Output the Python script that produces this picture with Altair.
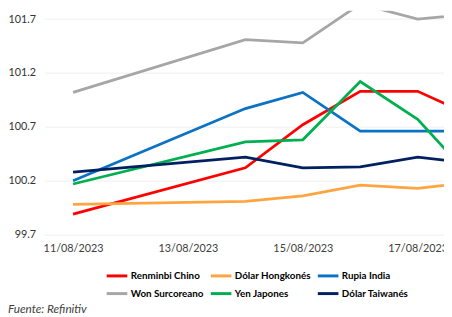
import altair as alt
import pandas as pd

fechas = ["2023-08-11", "2023-08-14", "2023-08-15", "2023-08-16", "2023-08-17", "2023-08-18"]
renminbi_chino = [99.89, 100.32, 100.72, 101.03, 101.03, 100.79]
dolar_hongkones = [99.98, 100.01, 100.06, 100.16, 100.13, 100.19]
rupia_india = [100.20, 100.87, 101.02, 100.66, 100.66, 100.66]
won_surcoreano = [101.02, 101.51, 101.48, 101.84, 101.70, 101.75]
yen_japones = [100.17, 100.56, 100.58, 101.12, 100.77, 100.19]
dolar_taiwanes = [100.28, 100.42, 100.32, 100.33, 100.42, 100.36]

series = ["Renminbi Chino", "Dólar Hongkonés", "Rupia India",
          "Won Surcoreano", "Yen Japones", "Dólar Taiwanés"]
valores = [renminbi_chino, dolar_hongkones, rupia_india,
           won_surcoreano, yen_japones, dolar_taiwanes]
colores = ["#FF0000", "#FFA53F", "#0B72C4", "#A6A6A6", "#00B050", "#002060"]
ticks_y = [99.7, 100.2, 100.7, 101.2, 101.7]
ticks_x = [11, 13, 15, 17]

rows = []
for s, vals in zip(series, valores):
    for f, v in zip(fechas, vals):
        rows.append({"fecha": pd.Timestamp(f), "serie": s, "valor": v})
df = pd.DataFrame(rows)

FONT = "Lato"

chart = alt.Chart(df).mark_line(strokeWidth=2.8, clip=True).encode(
    x=alt.X(
        "fecha:T",
        scale=alt.Scale(domain=[alt.DateTime(year=2023, month=8, date=10, hours=12),
                                alt.DateTime(year=2023, month=8, date=17, hours=11)]),
        axis=alt.Axis(
            values=[alt.DateTime(year=2023, month=8, date=d) for d in ticks_x],
            format="%d/%m/%Y", title=None, grid=False, ticks=False, domain=False,
            labelPadding=8, labelFont=FONT, labelFontSize=11, labelColor="#404040",
        ),
    ),
    y=alt.Y(
        "valor:Q",
        scale=alt.Scale(domain=[99.7, 101.777], nice=False, zero=False),
        axis=alt.Axis(
            values=ticks_y, format=".1f", title=None, ticks=False, domain=False,
            grid=True, gridColor="#EFEFEF", gridWidth=1,
            labelPadding=9, labelFont=FONT, labelFontSize=11, labelColor="#333333",
        ),
    ),
    color=alt.Color(
        "serie:N",
        scale=alt.Scale(domain=series, range=colores),
        legend=alt.Legend(
            orient="none", legendX=62, legendY=258, direction="horizontal", columns=3,
            symbolType="stroke", symbolSize=441, symbolStrokeWidth=3,
            labelFont=FONT, labelFontWeight="bold", labelFontSize=10, labelColor="#000000",
            title=None, columnPadding=0, rowPadding=0, labelOffset=2, padding=0,
        ),
    ),
).properties(
    width=407,
    height=228,
    padding={"left": 37, "top": 0, "right": 0, "bottom": 81},
    autosize=alt.AutoSizeParams(type="none"),
    title=alt.TitleParams(
        "Fuente: Refinitiv", orient="bottom", anchor="start", frame="bounds",
        font=FONT, fontSize=12, fontStyle="italic", fontWeight="normal",
        color="#404040", offset=5,
    ),
).configure_view(stroke=None)

chart.save("out.html", embed_options={"renderer": "svg", "actions": False})
